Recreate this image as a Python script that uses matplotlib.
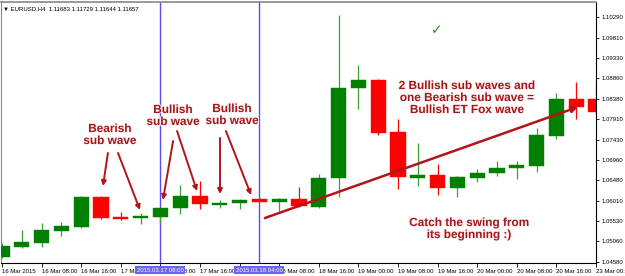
import matplotlib
matplotlib.use("Agg")
import matplotlib.pyplot as plt
import matplotlib.patheffects as pe
import matplotlib.transforms as mtransforms

plt.rcParams['font.family'] = ['Liberation Sans', 'DejaVu Sans']

# EURUSD H4 candles, 16 Mar 2015 00:00 .. 23 Mar 2015 00:00
opens  = [1.04697, 1.04930, 1.05023, 1.05302, 1.05396, 1.06095, 1.05629, 1.05605,
          1.05629, 1.05838, 1.06118, 1.05920, 1.05955, 1.06048, 1.05978, 1.06048,
          1.05862, 1.06537, 1.08634, 1.08821, 1.07609, 1.06537, 1.06607, 1.06304,
          1.06537, 1.06654, 1.06770, 1.06817, 1.07516, 1.08378, 1.08378]
highs  = [1.05023, 1.05326, 1.05489, 1.05512, 1.06118, 1.06118, 1.05745, 1.05722,
          1.05850, 1.06374, 1.06467, 1.06025, 1.06048, 1.06060, 1.06071, 1.06328,
          1.06630, 1.10335, 1.09170, 1.08844, 1.07912, 1.07353, 1.06863, 1.06584,
          1.06747, 1.06933, 1.06933, 1.07702, 1.08518, 1.08774, 1.08797]
lows   = [1.04673, 1.04906, 1.04930, 1.05186, 1.05372, 1.05582, 1.05570, 1.05465,
          1.05489, 1.05698, 1.05815, 1.05838, 1.05815, 1.05978, 1.05768, 1.05862,
          1.05850, 1.06095, 1.08145, 1.07539, 1.06281, 1.06351, 1.06141, 1.06095,
          1.06444, 1.06584, 1.06514, 1.06677, 1.07446, 1.07912, 1.08005]
closes = [1.04953, 1.05046, 1.05326, 1.05419, 1.06095, 1.05605, 1.05582, 1.05652,
          1.05838, 1.06118, 1.05931, 1.05943, 1.06025, 1.05978, 1.06048, 1.05885,
          1.06537, 1.08634, 1.08821, 1.07586, 1.06561, 1.06607, 1.06304, 1.06561,
          1.06654, 1.06770, 1.06840, 1.07539, 1.08378, 1.08192, 1.08075]

time_labels = ["16 Mar 2015", "16 Mar 08:00", "16 Mar 16:00", "17 Mar 00:00",
               "17 Mar 08:00", "17 Mar 16:00", "18 Mar 00:00", "18 Mar 08:00",
               "18 Mar 16:00", "19 Mar 00:00", "19 Mar 08:00", "19 Mar 16:00",
               "20 Mar 00:00", "20 Mar 08:00", "20 Mar 16:00", "23 Mar 00:00"]
price_ticks = [1.10290, 1.09810, 1.09330, 1.08860, 1.08380, 1.07910, 1.07430,
               1.06960, 1.06480, 1.06010, 1.05530, 1.05060, 1.04580]

# vertical marker lines (candle index) and their time labels
vline_idx = [8, 13]
vline_labels = ["2015.03.17 08:00", "2015.03.18 04:00"]

GREEN = "#008000"
RED = "#ff0000"
TXT = "#a3161a"
ARR = "#b3141c"

fig = plt.figure(figsize=(6.25, 2.76), dpi=100)
ax = fig.add_axes([1/625, 13/276, 595/625, 261/276])

x = list(range(len(opens)))
for i in x:
    o, h, l, c = opens[i], highs[i], lows[i], closes[i]
    col = GREEN if c >= o else RED
    wick = "#3f9f3f" if c >= o else RED
    ax.vlines(i, l, h, color=wick, lw=0.9, zorder=2)
    lo = min(o, c)
    hgt = max(abs(c - o), 0.00025)
    ax.bar(i, hgt, bottom=lo - (hgt - abs(c - o)) / 2, width=0.76,
           color=col, edgecolor=col, lw=0.3, zorder=3)

for v in vline_idx:
    ax.axvline(v, color="#5a4cf5", lw=1.0, zorder=1)

ax.set_xlim(-0.05, 30.0)
ax.set_ylim(1.04557, 1.10638)

ax.set_xticks(range(0, 31, 2))
ax.set_xticklabels(time_labels, ha="left", fontsize=4.3)
ax.tick_params(axis="x", length=3, width=0.6, pad=1, direction="out")
ax.yaxis.tick_right()
ax.set_yticks(price_ticks)
ax.set_yticklabels([f"{p:.5f}" for p in price_ticks], fontsize=4.3)
ax.tick_params(axis="y", length=2.5, width=0.6, pad=1.5)

ax.spines["left"].set_color("#888888")
ax.spines["top"].set_color("#888888")
ax.spines["top"].set_linewidth(1.2)
ax.spines["right"].set_linestyle((0, (1, 1)))
ax.spines["right"].set_linewidth(0.8)
ax.spines["bottom"].set_linewidth(0.8)

# highlighted time labels of the vertical lines
tr = mtransforms.blended_transform_factory(ax.transData, ax.transAxes)
for v, lab in zip(vline_idx, vline_labels):
    ax.text(v, -0.028, lab, transform=tr, ha="center", va="center", fontsize=4.3,
            color="white", zorder=10, clip_on=False,
            bbox=dict(boxstyle="square,pad=0.25", fc="#6b63f2", ec="none"))

# header
ax.text(0.004, 0.975, "\u25bc EURUSD,H4  1.11683 1.11729 1.11644 1.11657",
        transform=ax.transAxes, ha="left", va="center", fontsize=4.3, color="black")

halo = [pe.withStroke(linewidth=1.2, foreground="#fff0f0")]
tkw = dict(ha="center", va="center", fontsize=8.5, fontweight="bold", color=TXT,
           linespacing=1.0, path_effects=halo, zorder=6)

ax.text(5.45, 1.07539, "Bearish\nsub wave", **tkw)
ax.text(8.64, 1.07982, "Bullish\nsub wave", **tkw)
ax.text(11.62, 1.08005, "Bullish\nsub wave", **tkw)
ax.text(23.48, 1.08401, "2 Bullish sub waves and\none Bearish sub wave =\nBullish ET Fox wave", **tkw)
ax.text(23.59, 1.05349, "Catch the swing from\nits beginning :)", **tkw)
ax.text(21.97, 1.09986, "\u2713", ha="center", va="center", fontsize=10,
        color="#2e8b2e", family="DejaVu Sans", zorder=6)

arrows = [
    ((5.35, 1.07120), (5.10, 1.06351)),
    ((5.86, 1.07120), (6.97, 1.05792)),
    ((8.64, 1.07399), (8.13, 1.06025)),
    ((8.84, 1.07632), (9.85, 1.06234)),
    ((11.01, 1.07469), (11.01, 1.06164)),
    ((11.31, 1.07632), (12.58, 1.06141)),
]
for start, end in arrows:
    ax.annotate("", xy=end, xytext=start, zorder=6,
                arrowprops=dict(arrowstyle="-|>", color=ARR, lw=1.4,
                                mutation_scale=7, shrinkA=0, shrinkB=0))
ax.annotate("", xy=(29.09, 1.08192), xytext=(13.28, 1.05605), zorder=6,
            arrowprops=dict(arrowstyle="-|>", color=ARR, lw=1.8,
                            mutation_scale=9, shrinkA=0, shrinkB=0))

fig.savefig("out.png", dpi=100)
